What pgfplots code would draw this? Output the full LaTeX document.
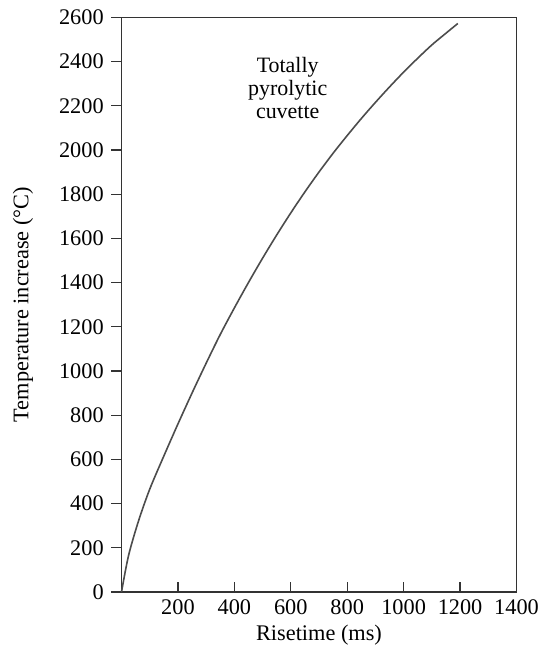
\documentclass[border=0pt]{standalone}
\usepackage{fontspec}
\setmainfont{Liberation Serif}
\usepackage{pgfplots}
\pgfplotsset{compat=1.18}
\begin{document}
\fontsize{11.2}{13}\selectfont
\begin{tikzpicture}
\begin{axis}[
  scale only axis,
  width=197.5bp, height=287.35bp,
  xmin=0, xmax=1400, ymin=0, ymax=2600,
  xtick={200,400,...,1400},
  ytick={0,200,...,2600},
  xtick pos=bottom, ytick pos=left,
  xtick align=inside, ytick align=outside,
  major tick length=5bp,
  axis line style={black!80, line width=0.7bp},
  every tick/.style={black!80, line width=0.6bp},
  /pgf/number format/assume math mode=true,
  /pgf/number format/set thousands separator={},
  tick label style={font=\fontsize{11.2}{13}\selectfont},
  xlabel={Risetime (ms)},
  ylabel={Temperature increase (°C)},
  xlabel style={at={(axis description cs:0.5,0)}, anchor=center, yshift=-21.5bp, font=\fontsize{11.2}{13}\selectfont},
  ylabel style={at={(axis description cs:-0.2494,0.5)}, anchor=center, font=\fontsize{11.2}{13}\selectfont},
  clip=false,
]
\addplot[smooth, tension=0.5, black!70, line width=0.8bp] coordinates {
(0,0) (25,165) (60,320) (100,465) (150,615) (200,760) (250,900)
(300,1035) (350,1165) (400,1285) (450,1400) (500,1510) (550,1615)
(600,1715) (650,1810) (700,1900) (750,1985) (800,2065) (850,2142)
(900,2215) (950,2285) (1000,2352) (1050,2415) (1100,2475) (1150,2528)
(1192,2572)
};
\node[align=center, font=\fontsize{11}{11.5}\selectfont] at (axis cs:589,2280) {Totally\\pyrolytic\\cuvette};
\end{axis}
\pgfresetboundingbox
\path (current axis.south west) ++(-60.75bp,-27bp) (current axis.north east) ++(13.25bp,8.65bp);
\end{tikzpicture}
\end{document}
